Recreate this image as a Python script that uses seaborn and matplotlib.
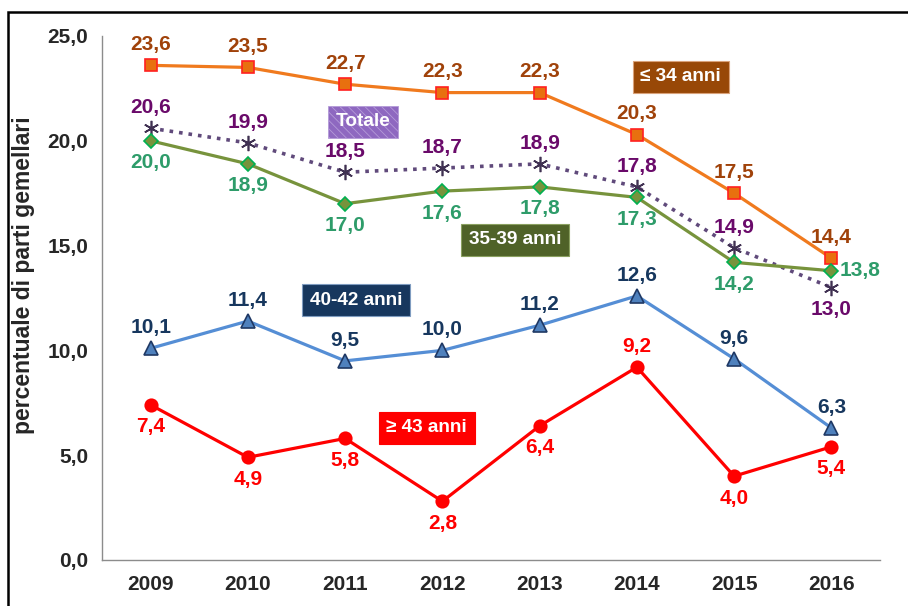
import numpy as np
import pandas as pd
import matplotlib
matplotlib.use("Agg")
import matplotlib.pyplot as plt
import seaborn as sns
from matplotlib.ticker import FuncFormatter, FixedLocator
from matplotlib.patches import Rectangle

anni = ["2009", "2010", "2011", "2012", "2013", "2014", "2015", "2016"]

fino_34 = [23.6, 23.5, 22.7, 22.3, 22.3, 20.3, 17.5, 14.4]
totale = [20.6, 19.9, 18.5, 18.7, 18.9, 17.8, 14.9, 13.0]
da_35_39 = [20.0, 18.9, 17.0, 17.6, 17.8, 17.3, 14.2, 13.8]
da_40_42 = [10.1, 11.4, 9.5, 10.0, 11.2, 12.6, 9.6, 6.3]
oltre_43 = [7.4, 4.9, 5.8, 2.8, 6.4, 9.2, 4.0, 5.4]

sns.set_style("white")
plt.rcParams['font.family'] = ['Liberation Sans', 'DejaVu Sans']
plt.rcParams['font.weight'] = 'bold'
plt.rcParams['hatch.linewidth'] = 0.6

fig = plt.figure(figsize=(9.08, 6.06), dpi=100)
ax = fig.add_axes([102/908, 1-560/606, (880-102)/908, (560-36)/606])

x = np.arange(len(anni))
FS = 15

# (name, values, line colour, linestyle, marker, marker face, marker edge, msize, label colour, label pos)
serie = [
    ("≤ 34 anni", fino_34, "#F07A1E", "-", "s", "#E8700F", "#FF2020", 9, "#A0420A", ["a"] * 8),
    ("Totale", totale, "#604A7B", ":", (6, 2, 0), "#403152", "#403152", 11, "#6A0A6A",
     ["a"] * 7 + ["b"]),
    ("35-39 anni", da_35_39, "#77933C", "-", "D", "#77933C", "#00B050", 7, "#2E9C6A",
     ["b"] * 7 + ["r"]),
    ("40-42 anni", da_40_42, "#558ED5", "-", "^", "#4F81BD", "#1F3864", 10, "#17375E", ["a"] * 8),
    ("≥ 43 anni", oltre_43, "#FF0000", "-", "o", "#FF0000", "#FF0000", 9, "#FF0000",
     ["b"] * 5 + ["a"] + ["b"] * 2),
]

for nome, vals, lc, ls, mk, mf, me, ms, tc, pos in serie:
    df = pd.DataFrame({"anno": x, "valore": vals})
    sns.lineplot(data=df, x="anno", y="valore", ax=ax, color=lc, linestyle=ls,
                 linewidth=2.6 if ls == ":" else 2.3, marker=mk, markersize=ms,
                 markerfacecolor=mf, markeredgecolor=me, markeredgewidth=1.2)
    for xi, v, p in zip(x, vals, pos):
        lab = f"{v:.1f}".replace(".", ",")
        if p == "a":
            ax.annotate(lab, (xi, v), xytext=(0, 8), textcoords="offset points",
                        ha="center", va="bottom", color=tc, fontsize=FS, fontweight="bold")
        elif p == "b":
            ax.annotate(lab, (xi, v), xytext=(0, -9), textcoords="offset points",
                        ha="center", va="top", color=tc, fontsize=FS, fontweight="bold")
        else:
            ax.annotate(lab, (xi, v), xytext=(6, 0), textcoords="offset points",
                        ha="left", va="center", color=tc, fontsize=FS, fontweight="bold")

# series name boxes
box_kw = dict(ha="center", va="center", color="white", fontsize=13.7, fontweight="bold")
ax.text(5.45, 23.05, "≤ 34 anni", bbox=dict(boxstyle="square,pad=0.4", fc="#984807", ec="#D9A27A", lw=0.8), **box_kw)
ax.text(2.18, 20.9, "Totale", bbox=dict(boxstyle="square,pad=0.4", fc="#8E68C0", ec="#B49AD8",
                                        hatch="\\\\\\\\", lw=0.6), **box_kw)
ax.text(3.75, 15.27, "35-39 anni", bbox=dict(boxstyle="square,pad=0.4", fc="#4F6228", ec="#8AA060", lw=0.8), **box_kw)
ax.text(2.11, 12.4, "40-42 anni", bbox=dict(boxstyle="square,pad=0.4", fc="#17375E", ec="#7F9CC0", lw=0.8), **box_kw)
ax.text(2.84, 6.3, "≥ 43 anni", bbox=dict(boxstyle="square,pad=0.4", fc="#FF0000", ec="#FF0000", lw=0.8), **box_kw)

ax.set_xlim(-0.5, len(anni) - 0.5)
ax.set_ylim(0, 25)
ax.set_yticks(np.arange(0, 26, 5))
ax.yaxis.set_major_formatter(FuncFormatter(lambda v, _: f"{v:.1f}".replace(".", ",")))
ax.set_xticks(x)
ax.set_xticklabels(anni)
ax.xaxis.set_minor_locator(FixedLocator(np.arange(-0.5, len(anni), 1.0)))
ax.tick_params(axis="x", which="major", length=0, pad=11, labelsize=FS)
ax.tick_params(axis="x", which="minor", length=6, color="#8C8C8C", width=1, direction="out")
ax.tick_params(axis="y", length=6, color="#8C8C8C", width=1, direction="out", pad=4, labelsize=FS)
for lab in ax.get_xticklabels() + ax.get_yticklabels():
    lab.set_fontweight("bold")

ax.set_xlabel("")
ax.set_ylabel("percentuale di parti gemellari", fontsize=16.5, fontweight="bold")
ax.yaxis.set_label_coords(-0.086, 0.544)
sns.despine(ax=ax)
for s in ["left", "bottom"]:
    ax.spines[s].set_color("#8C8C8C")
    ax.spines[s].set_linewidth(1)

fig.add_artist(Rectangle((8/908, -0.2), 1.5, (606-12)/606 + 0.2, fill=False, lw=1.8,
                         ec="black", transform=fig.transFigure))

fig.savefig("out.png", dpi=100)
